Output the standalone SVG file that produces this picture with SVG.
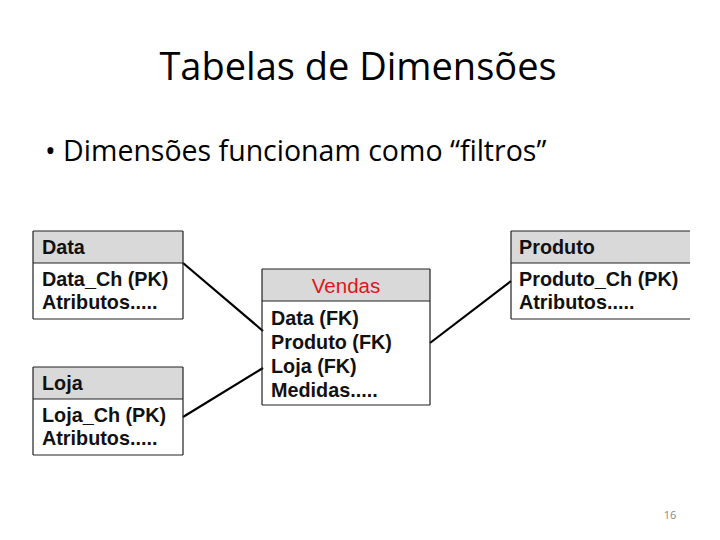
<svg xmlns="http://www.w3.org/2000/svg" width="720" height="540" viewBox="0 0 720 540">
<style>
.title{font-family:"Open Sans","Liberation Sans",sans-serif;font-size:38px;fill:#000}
.bullet{font-family:"Open Sans","Liberation Sans",sans-serif;font-size:28.5px;fill:#000}
.hdr{fill:#d9d9d9;stroke:none}
.edge{stroke:#222;stroke-width:1.2;fill:none}
.t{font-family:"Liberation Sans",Arial,sans-serif;font-weight:bold;font-size:19.8px;fill:#111}
.red{fill:#e0151b;font-weight:normal;font-size:20.5px}
.conn{stroke:#000;stroke-width:2.2;fill:none}
.pg{font-family:"Open Sans","Liberation Sans",sans-serif;font-size:11px;fill:#888}
</style>
<rect width="720" height="540" fill="#fff"/>
<text class="title" x="358" y="80" text-anchor="middle">Tabelas de Dimensões</text>
<text class="bullet" x="45" y="161">• Dimensões funcionam como “filtros”</text>
<g id="connectors">
<line class="conn" x1="183" y1="263" x2="263" y2="331"/>
<line class="conn" x1="183" y1="417" x2="263" y2="368"/>
<line class="conn" x1="430" y1="343" x2="511" y2="281"/>
</g>
<g id="data">
<rect class="hdr" x="33" y="231" width="150" height="32"/>
<path class="edge" d="M33,231H183M33,263H183M33,319H183M33,231V319M183,231V319"/>
<text class="t" x="42" y="254">Data</text>
<text class="t" x="42" y="286">Data_Ch (PK)</text>
<text class="t" x="42" y="309">Atributos.....</text>
</g>
<g id="loja">
<rect class="hdr" x="33" y="367" width="150" height="32"/>
<path class="edge" d="M33,367H183M33,399H183M33,455H183M33,367V455M183,367V455"/>
<text class="t" x="42" y="390">Loja</text>
<text class="t" x="42" y="422">Loja_Ch (PK)</text>
<text class="t" x="42" y="445">Atributos.....</text>
</g>
<g id="vendas">
<rect class="hdr" x="262" y="269" width="168" height="32"/>
<path class="edge" d="M262,269H430M262,301H430M262,405H430M262,269V405M430,269V405"/>
<text class="t red" x="346" y="293" text-anchor="middle">Vendas</text>
<text class="t" x="271" y="325">Data (FK)</text>
<text class="t" x="271" y="349">Produto (FK)</text>
<text class="t" x="271" y="373">Loja (FK)</text>
<text class="t" x="271" y="397">Medidas.....</text>
</g>
<g id="produto">
<rect class="hdr" x="511" y="231" width="179" height="32"/>
<path class="edge" d="M511,231H690M511,263H690M511,319H690M511,231V319"/>
<text class="t" x="519" y="254">Produto</text>
<text class="t" x="519" y="286">Produto_Ch (PK)</text>
<text class="t" x="519" y="309">Atributos.....</text>
</g>
<text class="pg" x="670" y="519" text-anchor="middle">16</text>
</svg>
